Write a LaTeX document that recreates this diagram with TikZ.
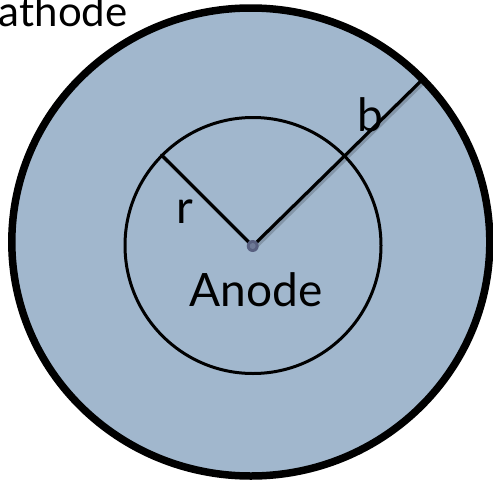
\documentclass[tikz,border=0pt]{standalone}
\usepackage{fontspec}
\setmainfont{Lato}
\definecolor{cathfill}{RGB}{161,183,205}
\definecolor{dotcol}{RGB}{88,96,128}
\tikzset{
  radline/.style={line width=3.2pt, line cap=round},
  shadowline/.style={line width=4pt, black, opacity=0.18},
  lbl/.style={inner sep=0pt, font=\fontsize{46}{50}\selectfont},
}
\begin{document}
\begin{tikzpicture}[x=1pt,y=-1pt]
\clip (0,0) rectangle (493,485);
\useasboundingbox (0,0) rectangle (493,485);
% cathode (outer)
\draw[line width=7.5pt, fill=cathfill] (250.8,242) ellipse [x radius=239, y radius=234];
% anode (inner)
\draw[line width=3pt] (253,245.5) circle [radius=128];
\coordinate (O) at (252.7,246);
\coordinate (R) at (161.5,155);
\coordinate (B) at (422.7,79.3);
% shadows
\draw[shadowline, transform canvas={shift={(1.8pt,-2pt)}}] (R) -- (O) -- (B);
\draw[radline] (O) -- (R);
\draw[radline] (O) -- (B);
\fill[dotcol] (O) circle [radius=6];
\fill[dotcol!70!cathfill] (O) circle [radius=3];
% labels
\node[lbl, anchor=base east, font=\fontsize{42}{46}\selectfont] (cath) at (127.7,26.7) {Cathode};
\node[lbl, anchor=base] (anode) at (256,306.7) {Anode};
\node[lbl, anchor=base] (rlbl) at (185,223) {r};
\node[lbl, anchor=base] (blbl) at (370,131.5) {b};
\end{tikzpicture}
\end{document}
